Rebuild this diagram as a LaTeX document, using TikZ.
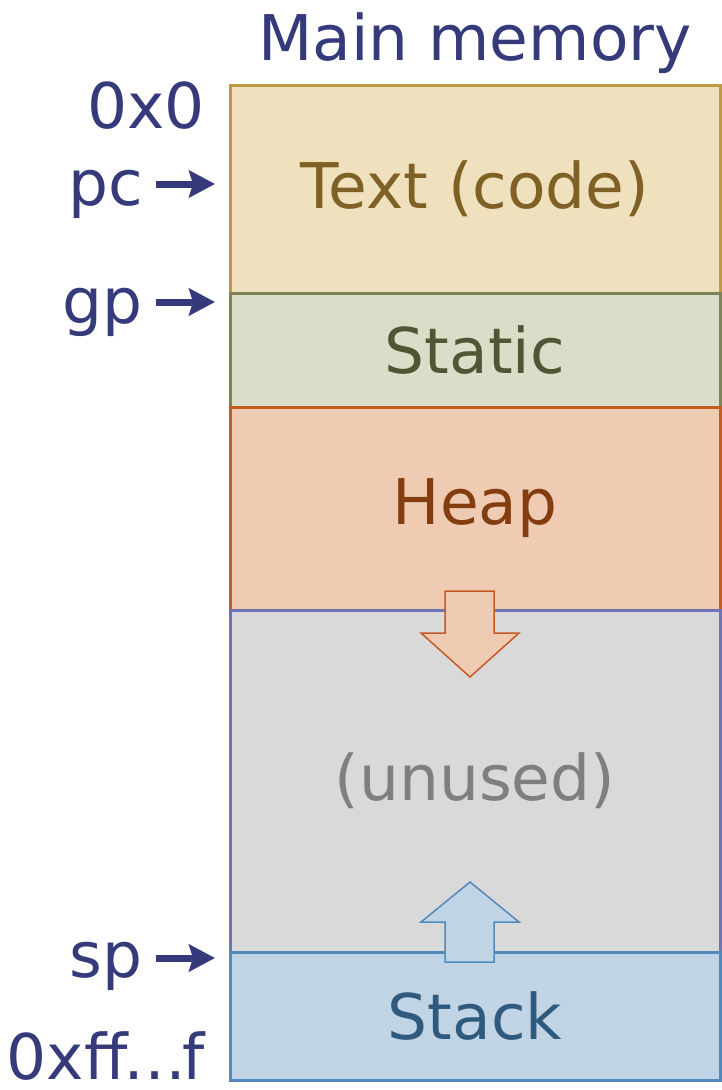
\documentclass[tikz,border=0pt]{standalone}
\usepackage{fontspec}
\setmainfont{DejaVu Sans}
\usetikzlibrary{arrows.meta}

\definecolor{addrblue}{HTML}{343A7A}
\definecolor{textfill}{HTML}{EFE0BE}
\definecolor{textline}{HTML}{BF9A45}
\definecolor{textfont}{HTML}{7F6025}
\definecolor{staticfill}{HTML}{DBDDC9}
\definecolor{staticline}{HTML}{7E8456}
\definecolor{staticfont}{HTML}{4F5535}
\definecolor{heapfill}{HTML}{F0CBB3}
\definecolor{heapline}{HTML}{C65B22}
\definecolor{heapfont}{HTML}{843D0F}
\definecolor{unusedfill}{HTML}{D9D9D9}
\definecolor{unusedline}{HTML}{6E74B6}
\definecolor{unusedfont}{HTML}{7F7F7F}
\definecolor{stackfill}{HTML}{C1D4E6}
\definecolor{stackline}{HTML}{5189BC}
\definecolor{stackfont}{HTML}{305A7D}

\tikzset{
  bigfont/.style={font=\fontsize{63}{70}\selectfont},
  region/.style={draw, bigfont, line width=3pt, minimum width=490pt,
    inner sep=0pt, outer sep=0pt, anchor=north west},
  addr/.style={bigfont, text=addrblue, inner sep=0pt, anchor=base east},
  ptr/.style={addrblue, line width=7pt, -{Stealth[length=26pt,width=27pt,inset=4pt]}},
  blockarrow/.style={line width=1.5pt, line join=miter},
}

\begin{document}
\begin{tikzpicture}[x=1pt,y=-1pt]
  \useasboundingbox (0,0) rectangle (721,1090);

  % memory regions, top to bottom
  \node[region, draw=textline, fill=textfill, text=textfont, minimum height=208pt]
    (text) at (230,85) {Text (code)};
  \node[region, draw=staticline, fill=staticfill, text=staticfont, minimum height=114pt]
    (static) at (text.south west) {Static};
  \node[region, draw=heapline, fill=heapfill, text=heapfont, minimum height=203pt]
    (heap) at (static.south west) {Heap};
  \node[region, draw=unusedline, fill=unusedfill, text=unusedfont, minimum height=342pt]
    (unused) at (heap.south west) {(unused)};
  \node[region, draw=stackline, fill=stackfill, text=stackfont, minimum height=128pt]
    (stack) at (unused.south west) {Stack};

  % growth arrows
  \draw[blockarrow, heapline, fill=heapfill] (445,591) -- (494,591) -- (494,633) -- (519,633)
    -- (470,677) -- (421,633) -- (445,633) -- cycle;
  \draw[blockarrow, stackline, fill=stackfill] (445,962) -- (494,962) -- (494,922) -- (519,922)
    -- (470,882) -- (421,922) -- (445,922) -- cycle;

  \node[bigfont, text=addrblue, anchor=base, inner sep=0pt] (title) at (475,60) {Main memory};

  % addresses and registers
  \node[addr] (low) at (205,128) {0x0};
  \node[addr] (pc) at (143,205) {pc};
  \node[addr] (gp) at (143,323) {gp};
  \node[addr] (sp) at (143,977) {sp};
  \node[addr] (high) at (205,1079) {0xff\kern-4pt…\kern-4pt f};

  \coordinate (pcat) at (215,184);
  \coordinate (gpat) at (215,302);
  \coordinate (spat) at (215,958);

  % draw pointers
  \draw[ptr] (pc.east |- pcat) ++(13,0) -- (pcat);
  \draw[ptr] (gp.east |- gpat) ++(13,0) -- (gpat);
  \draw[ptr] (sp.east |- spat) ++(13,0) -- (spat);
\end{tikzpicture}
\end{document}
